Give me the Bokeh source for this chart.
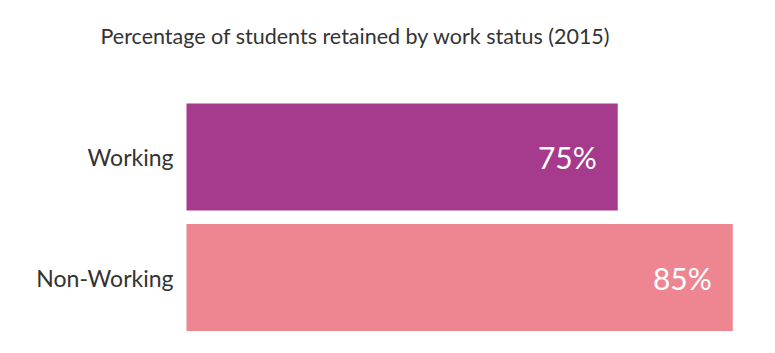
from bokeh.plotting import figure
from bokeh.models import ColumnDataSource, Range1d, Label
from bokeh.core.properties import value
from bokeh.embed import file_html
from bokeh.resources import INLINE

categories = ["Non-Working", "Working"]
values = [85, 75]
labels = ["85%", "75%"]
colors = ["#EE8692", "#A63B8D"]
title_text = "Percentage of students retained by work status (2015)"

W, H = 775, 353
baseline = min(values) / 2
# layout: pixel geometry of the plotting area
px_per_x = 11.5
base_px = 186
px_per_band = 120.5
first_band_px = 156.5  # centre of top band from top edge

positions = [i + 0.5 for i in range(len(categories))]
x0 = baseline - base_px / px_per_x
y1 = positions[-1] + first_band_px / px_per_band

src = ColumnDataSource(dict(cat=categories, pos=positions, val=values, lab=labels, col=colors,
                            base=[baseline] * len(values)))

p = figure(width=W, height=H, output_backend="svg", toolbar_location=None,
           x_range=Range1d(x0, x0 + W / px_per_x),
           y_range=Range1d(y1 - H / px_per_band, y1),
           min_border=0)

p.hbar(y="pos", left="base", right="val", height=0.89, fill_color="col", line_color=None, source=src)
p.text(x="val", y="pos", text="lab", source=src, text_align="right", text_baseline="middle",
       x_offset=-21, text_color="white", text_font_size="30px", text_font=value("Lato"))
p.text(x="base", y="pos", text="cat", source=src, text_align="right", text_baseline="middle",
       x_offset=-13, text_color="#333333", text_font_size="23px", text_font=value("Lato"))

title = Label(x=100, y=H - 35, x_units="screen", y_units="screen", text=title_text,
              text_font="Lato", text_font_size="21.5px", text_color="#333333",
              text_align="left", text_baseline="middle")
p.add_layout(title)

p.xaxis.visible = False
p.yaxis.visible = False
p.grid.visible = False
p.outline_line_color = None
p.background_fill_color = "white"
p.border_fill_color = "white"

open("out.html", "w").write(file_html(p, INLINE))
